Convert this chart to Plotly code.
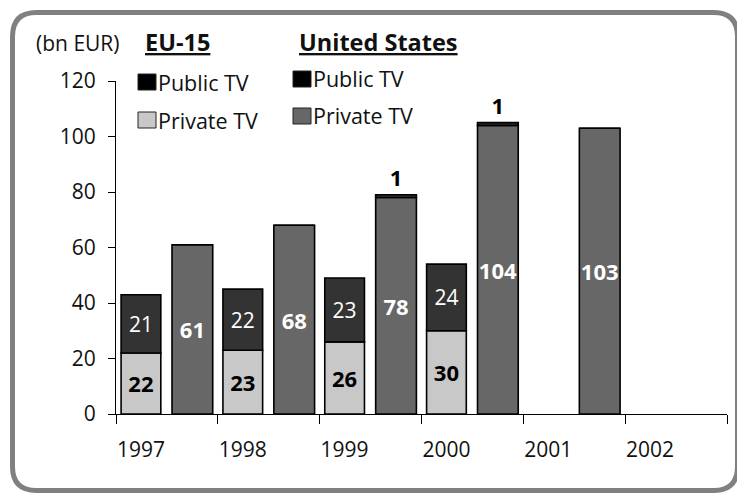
import plotly.graph_objects as go

# ---- data ----
years = ["1997", "1998", "1999", "2000", "2001", "2002"]
eu_years = ["1997", "1998", "1999", "2000"]
eu_private = [22, 23, 26, 30]
eu_public = [21, 22, 23, 24]
us_years = ["1997", "1998", "1999", "2000", "2001"]
us_private = [61, 68, 78, 104, 103]
us_public = [0, 0, 1, 1, 0]

FONT = "Open Sans"
OFF = 8                      # page body margin of the browser
W, H = 745 - OFF, 493 - OFF
ML, MR, MT, MB = 116 - OFF, 18, 81 - OFF, 79
PW, PH = W - ML - MR, H - MT - MB


def px(x):  # screen pixel -> paper
    return (x - OFF - ML) / PW


def py(y):
    return (OFF + H - MB - y) / PH


C_EU_PRIV = "#c8c8c8"
C_EU_PUB = "#333333"
C_US_PRIV = "#676767"
C_US_PUB = "#333333"
OUTLINE = dict(color="black", width=1.6)

fig = go.Figure()

fig.add_trace(go.Bar(
    x=eu_years, y=eu_private, name="Private TV", offset=-0.45, width=0.39,
    marker=dict(color=C_EU_PRIV, line=OUTLINE),
    text=[str(v) for v in eu_private], textposition="inside",
    insidetextanchor="middle", textangle=0, constraintext="none",
    textfont=dict(family=FONT, size=22, color="black", weight="bold"),
    showlegend=False, cliponaxis=False,
))
fig.add_trace(go.Bar(
    x=eu_years, y=eu_public, base=eu_private, name="Public TV",
    offset=-0.45, width=0.39,
    marker=dict(color=C_EU_PUB, line=OUTLINE),
    text=[str(v) for v in eu_public], textposition="inside",
    insidetextanchor="middle", textangle=0, constraintext="none",
    textfont=dict(family=FONT, size=21, color="white"),
    showlegend=False, cliponaxis=False,
))
fig.add_trace(go.Bar(
    x=us_years, y=us_private, name="Private TV", offset=0.05, width=0.40,
    marker=dict(color=C_US_PRIV, line=OUTLINE),
    text=[str(v) for v in us_private], textposition="inside",
    insidetextanchor="middle", textangle=0, constraintext="none",
    textfont=dict(family=FONT, size=22, color="white", weight="bold"),
    showlegend=False, cliponaxis=False,
))
fig.add_trace(go.Bar(
    x=us_years, y=us_public, base=us_private, name="Public TV",
    offset=0.05, width=0.40,
    marker=dict(color=C_US_PUB, line=OUTLINE),
    text=[str(v) if v else "" for v in us_public], textposition="outside",
    textangle=0, constraintext="none",
    textfont=dict(family=FONT, size=22, color="black", weight="bold"),
    showlegend=False, cliponaxis=False,
))

fig.update_layout(
    width=W, height=H, barmode="overlay",
    margin=dict(l=ML, r=MR, t=MT, b=MB, pad=0),
    paper_bgcolor="white", plot_bgcolor="white",
    font=dict(family=FONT, size=21, color="#111111"),
    showlegend=False,
    xaxis=dict(
        type="category", categoryorder="array", categoryarray=years,
        range=[-0.5, 5.5], tickson="boundaries", ticks="outside", ticklen=9,
        tickcolor="black", tickwidth=1, showline=True, linecolor="black",
        linewidth=1, showgrid=False, zeroline=False,
        ticklabelshift=-26, ticklabelstandoff=17,
        tickfont=dict(family=FONT, size=21, color="#111111"),
    ),
    yaxis=dict(
        range=[0, 120], dtick=20, tick0=0, ticks="outside", ticklen=7,
        tickcolor="black", tickwidth=1, showline=True, linecolor="black",
        linewidth=1, showgrid=False, zeroline=False, ticklabelstandoff=8,
        tickfont=dict(family=FONT, size=21, color="#111111"),
    ),
)


# ---- headers ----
def ann(text, x, y, bold=False, size=21, xanchor="left"):
    fig.add_annotation(
        text=text, x=px(x), y=py(y), xref="paper", yref="paper",
        xanchor=xanchor, yanchor="middle", showarrow=False,
        font=dict(family=FONT, size=size, color="#111111",
                  weight="bold" if bold else "normal"),
    )


ann("(bn EUR)", 34, 43)
ann("<u>EU-15</u>", 143, 42, bold=True, size=23.5)
ann("<u>United States</u>", 297, 42, bold=True, size=23.5)

# ---- legends ----
legend_items = [
    (138, 82, "#000000", "Public TV"),
    (138, 120, C_EU_PRIV, "Private TV"),
    (293, 79, "#000000", "Public TV"),
    (293, 116, C_US_PRIV, "Private TV"),
]
for lx, ly, col, label in legend_items:
    fig.add_shape(type="rect", xref="paper", yref="paper",
                  x0=px(lx), x1=px(lx + 18), y0=py(ly - 8), y1=py(ly + 8),
                  fillcolor=col, line=dict(color="#222222", width=1))
    ann(label, lx + 18, ly, size=21.5)

# ---- rounded frame ----
x0, y0, x1, y1, r = 12.5, 12.5, 737.5, 490.5, 24
pts = [
    f"M{px(x0 + r)},{py(y0)}",
    f"L{px(x1 - r)},{py(y0)}",
    f"Q{px(x1)},{py(y0)} {px(x1)},{py(y0 + r)}",
    f"L{px(x1)},{py(y1 - r)}",
    f"Q{px(x1)},{py(y1)} {px(x1 - r)},{py(y1)}",
    f"L{px(x0 + r)},{py(y1)}",
    f"Q{px(x0)},{py(y1)} {px(x0)},{py(y1 - r)}",
    f"L{px(x0)},{py(y0 + r)}",
    f"Q{px(x0)},{py(y0)} {px(x0 + r)},{py(y0)}",
    "Z",
]
fig.add_shape(type="path", path=" ".join(pts), xref="paper", yref="paper",
              line=dict(color="#808080", width=5))

fig.write_html("out.html")
